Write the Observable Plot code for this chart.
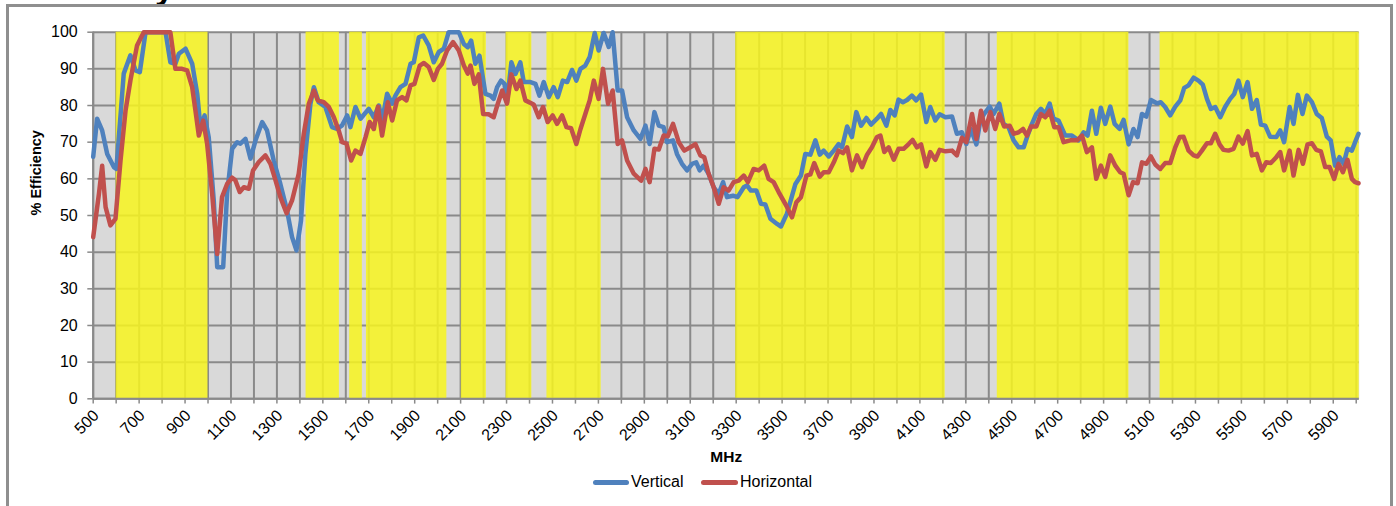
<!DOCTYPE html>
<html>
<head>
<meta charset="utf-8">
<script src="https://cdn.jsdelivr.net/npm/d3@7"></script>
<script src="https://cdn.jsdelivr.net/npm/@observablehq/plot@0.6"></script>
<style>
  html, body { margin: 0; padding: 0; background: #fff; }
  body { width: 1396px; height: 506px; overflow: hidden; position: relative; font-family: "Liberation Sans", Arial, sans-serif; }
  #frame { position: absolute; left: 6px; top: 4px; width: 1381px; height: 620px; border: 3px solid #8f8f8f; }
  #title { position: absolute; top: -30px; right: 1222px; font: bold 34px "Liberation Sans", Arial, sans-serif; line-height: 34px; color: #000; white-space: nowrap; }
  #chart { position: absolute; left: 0; top: 0; }
  .sw { position: absolute; height: 5px; border-radius: 3px; top: 480px; }
  .lt { position: absolute; top: 472px; font-size: 16px; line-height: 20px; color: #000; white-space: nowrap; }
</style>
</head>
<body>
<div id="title">Efficiency</div>
<div id="frame"></div>
<div id="chart"></div>
<div class="sw" style="left:593px;width:36px;background:#4f81bd"></div>
<div class="lt" style="left:631px">Vertical</div>
<div class="sw" style="left:701px;width:37px;background:#c0504d"></div>
<div class="lt" style="left:740px">Horizontal</div>
<script>
// ---- data ----
const vFreq = [500,517,539,561,590,601,633,662,684,703,728,815,836,858,873,902,931,953,967,985,1003,1025,1040,1066,1083,1105,1127,1141,1163,1185,1207,1236,1257,1286,1315,1344,1366,1385,1405,1424,1446,1461,1482,1511,1540,1562,1584,1606,1620,1642,1664,1700,1722,1744,1758,1780,1802,1816,1838,1860,1882,1896,1918,1937,1961,1983,2005,2027,2048,2092,2114,2131,2146,2164,2182,2208,2230,2244,2259,2276,2291,2302,2321,2339,2360,2375,2404,2426,2443,2462,2484,2505,2523,2545,2564,2585,2604,2622,2643,2662,2684,2701,2723,2745,2762,2784,2803,2825,2854,2883,2905,2923,2944,2963,2984,2999,3025,3042,3064,3086,3108,3126,3141,3158,3180,3202,3224,3243,3260,3286,3306,3333,3347,3364,3388,3408,3427,3449,3478,3495,3521,3558,3582,3601,3623,3645,3664,3681,3703,3725,3746,3761,3783,3804,3823,3844,3867,3887,3913,3931,3954,3971,3990,4007,4026,4044,4065,4084,4105,4128,4145,4167,4186,4211,4240,4261,4283,4302,4322,4346,4363,4380,4404,4421,4446,4464,4486,4508,4530,4552,4569,4588,4607,4627,4646,4665,4682,4704,4733,4762,4791,4813,4830,4849,4868,4888,4907,4929,4948,4970,4987,5009,5030,5048,5067,5086,5106,5132,5149,5168,5190,5212,5234,5251,5270,5292,5313,5332,5350,5367,5386,5408,5429,5451,5469,5487,5506,5527,5546,5567,5585,5604,5625,5652,5669,5686,5710,5727,5746,5766,5785,5807,5828,5850,5872,5889,5908,5927,5945,5962,5981,5995,6010];
const vEff = [66,76.4,73.2,66.8,63.2,62.7,88.7,93.7,89.6,89.1,100,100,91.8,91.4,94.1,95.5,91.4,83.2,74.1,77.3,71.4,54.1,35.9,35.9,55.9,68.2,70.0,69.6,70.9,65.5,70.5,75.5,73.2,65.0,58.6,51.4,44.1,40.5,48.6,66.8,80.5,85.0,80.9,79.6,74.1,73.6,74.6,77.3,74.1,79.6,76.4,79.1,76.8,80.0,75.9,83.2,80.5,82.7,85.0,85.9,91.4,91.8,98.6,99.1,96.4,91.8,94.6,95.5,100,100,96.8,95.9,97.7,91.4,93.6,83.2,82.7,81.8,85.0,86.8,85.9,80.9,91.8,88.6,91.8,86.4,86.4,85.9,82.7,86.4,82.3,85.0,82.3,86.8,86.4,89.7,86.8,90.0,90.9,93.2,99.8,95.0,99.8,96.0,100,84.1,84.1,76.8,73.2,70.9,74.5,69.5,78.2,74.5,74.1,70.0,70.5,66.8,64.1,62.3,64.1,64.5,62.3,63.6,61.4,57.7,55.9,59.1,55.0,55.4,55.0,57.7,58.2,56.8,56.8,53.2,53.0,49.1,47.7,47.0,50.5,58.6,60.9,66.8,66.6,70.5,66.6,67.7,66.1,67.7,69.5,68.6,74.3,71.4,78.2,74.5,76.6,74.8,76.4,77.7,74.5,78.8,77.3,81.6,80.9,81.5,82.7,81.4,83.0,75.5,79.6,75.9,77.6,76.8,77.0,72.3,72.7,69.5,73.6,69.4,75.9,77.7,79.7,77.7,80.5,75.0,74.1,70.5,68.6,68.6,71.8,75.0,77.7,79.1,77.7,80.5,76.4,75.9,71.8,71.8,70.5,72.7,71.8,78.6,72.3,79.4,75.0,79.7,75.0,73.6,76.1,69.4,73.6,71.4,77.7,77.0,81.5,80.6,80.9,79.6,77.3,79.7,81.4,84.8,85.5,87.6,86.8,85.7,81.8,79.1,79.6,76.8,79.6,81.8,83.2,86.8,82.3,86.4,79.1,81.5,74.8,74.5,71.5,71.4,73.2,70.0,79.6,75.0,82.9,77.7,82.7,80.9,77.7,76.6,71.5,70.5,63.6,65.9,64.1,68.2,67.7,70.0,72.3];

const hFreq = [500,525,539,554,575,597,619,641,662,691,720,836,858,887,909,931,945,960,979,996,1018,1040,1061,1083,1105,1119,1138,1156,1178,1196,1221,1250,1272,1294,1315,1342,1366,1395,1417,1439,1461,1478,1504,1526,1548,1569,1584,1603,1623,1642,1664,1686,1704,1722,1740,1758,1783,1802,1823,1845,1864,1882,1899,1922,1940,1961,1983,2001,2019,2041,2067,2092,2114,2131,2143,2160,2179,2198,2222,2244,2262,2281,2302,2321,2343,2360,2382,2418,2440,2459,2479,2501,2520,2542,2561,2581,2604,2622,2643,2662,2680,2701,2720,2742,2762,2784,2803,2825,2854,2886,2905,2923,2944,2963,2984,3002,3025,3050,3074,3100,3122,3144,3161,3180,3202,3224,3245,3267,3289,3311,3333,3351,3376,3398,3422,3441,3463,3485,3518,3543,3562,3582,3606,3623,3640,3664,3681,3703,3725,3746,3765,3783,3804,3826,3848,3870,3891,3913,3928,3945,3964,3986,4007,4029,4051,4068,4087,4105,4128,4145,4167,4186,4211,4240,4261,4283,4302,4327,4346,4366,4385,4407,4428,4446,4467,4491,4508,4530,4549,4566,4584,4607,4627,4646,4665,4685,4704,4726,4755,4784,4806,4827,4849,4868,4888,4907,4929,4951,4972,4987,5009,5028,5048,5067,5086,5106,5125,5147,5168,5190,5212,5231,5248,5270,5292,5309,5328,5350,5367,5386,5405,5422,5444,5466,5487,5506,5527,5546,5567,5589,5608,5628,5652,5669,5686,5710,5727,5749,5768,5788,5807,5826,5846,5865,5884,5904,5923,5942,5962,5981,5995,6010];
const hEff = [44.1,55.9,63.6,52.3,47.3,49.1,65.0,78.7,86.8,96.4,100,100,90.0,90.0,89.6,85.0,78.7,71.8,75.9,69.6,55.9,39.5,55.0,58.6,60.3,59.6,56.4,57.7,57.3,62.3,64.6,66.4,64.1,59.6,55.0,50.6,54.1,61.4,72.3,80.5,84.1,81.4,80.9,79.6,76.8,73.2,70.0,69.6,65.0,67.7,66.8,71.4,75.5,73.6,79.7,71.8,80.9,75.9,81.4,82.3,81.4,85.5,85.9,90.9,91.6,90.5,87.0,90.0,91.4,95.0,97.3,95.0,90.9,88.7,90.9,85.9,88.5,77.7,77.6,76.8,80.5,84.1,80.5,88.5,84.5,86.8,81.4,80.3,76.8,79.6,75.5,77.3,75.0,77.3,74.1,73.8,69.5,73.6,77.7,81.4,86.8,81.8,90.0,80.5,84.1,69.5,70.5,65.0,61.4,59.5,62.7,59.1,68.2,68.0,71.8,71.6,75.0,70.0,67.7,68.6,69.5,66.4,65.9,61.4,57.7,53.2,57.7,56.8,59.1,59.5,60.9,59.1,62.7,62.3,63.6,60.0,59.1,56.4,52.7,49.5,53.6,55.0,60.9,61.2,64.3,60.6,61.8,61.8,64.5,67.7,67.0,68.6,62.3,66.4,63.2,66.6,68.6,71.4,71.8,67.3,68.6,65.2,68.2,68.2,69.5,70.6,68.6,69.4,63.4,67.3,65.2,67.9,67.5,67.7,66.4,71.2,70.0,77.7,70.9,78.6,73.2,78.2,73.6,77.7,74.3,74.5,72.3,72.7,73.6,71.8,74.3,74.3,77.7,76.8,78.6,74.1,74.1,70.0,70.5,70.5,71.8,67.3,68.6,60.0,63.6,60.5,66.4,63.6,61.8,61.4,55.5,59.1,58.8,64.5,64.1,66.1,63.9,62.7,64.3,64.3,68.6,71.4,71.5,67.7,66.4,66.1,67.7,69.7,69.7,72.3,69.4,67.9,67.7,68.2,71.5,69.6,73.0,66.4,66.8,62.3,64.5,64.3,65.9,67.3,62.3,67.7,60.9,67.9,64.1,69.4,69.7,67.9,67.5,63.2,63.2,60.0,64.1,61.8,65.2,60.0,59.1,58.8];

// highlighted (yellow) frequency bands, MHz
const bandStart = [600,1427,1617,1690,2103,2298,2476,3298,4437,5146];
const bandEnd   = [1000,1572,1672,2040,2212,2410,2712,4210,5010,6013];

const xTicks = d3.range(500, 6001, 100);
const xLabels = d3.range(500, 6000, 200);
const yTicks = d3.range(0, 101, 10);

// ---- build tables ----
const vertical = vFreq.map((f, i) => ({f, v: vEff[i]}));
const horizontal = hFreq.map((f, i) => ({f, v: hEff[i]}));
const bands = bandStart.map((s, i) => ({s, e: bandEnd[i]}));

const H = 475;
const gridColor = "#8a8a8a";
const chart = Plot.plot({
  width: 1396,
  height: H,
  marginLeft: 92.7,
  marginRight: 1396 - 1358.7,
  marginTop: 31.7,
  marginBottom: H - 398.3,
  x: {domain: [500, 6013], axis: null},
  y: {domain: [0, 100], axis: null},
  style: {fontFamily: "'Liberation Sans', Arial, sans-serif", background: "transparent", overflow: "visible"},
  marks: [
    Plot.frame({fill: "#d9d9d9", stroke: "none"}),
    Plot.ruleX(xTicks, {stroke: gridColor, strokeWidth: 2}),
    Plot.ruleY(yTicks, {stroke: gridColor, strokeWidth: 2}),
    Plot.rect(bands, {x1: "s", x2: "e", y1: 0, y2: 100, fill: "#f7f520", fillOpacity: 0.86}),
    // axis lines and tick marks
    Plot.ruleY([0], {stroke: gridColor, strokeWidth: 2}),
    Plot.ruleX([500], {y1: 0, y2: 100, stroke: gridColor, strokeWidth: 2}),
    Plot.ruleX(xTicks, {y1: 0, y2: -1.45, stroke: gridColor, strokeWidth: 1.5}),
    Plot.ruleY(yTicks, {x1: 500, x2: 476.5, stroke: gridColor, strokeWidth: 1.5}),
    // series
    Plot.line(vertical, {x: "f", y: "v", stroke: "#4f81bd", strokeWidth: 4.5, strokeLinejoin: "round", strokeLinecap: "round"}),
    Plot.line(horizontal, {x: "f", y: "v", stroke: "#c0504d", strokeWidth: 4.5, strokeLinejoin: "round", strokeLinecap: "round"}),
    // tick labels
    Plot.text(yTicks, {x: 500, y: d => d, text: d => String(d), textAnchor: "end", dx: -15.5, fontSize: 16, fill: "#000"}),
    Plot.text(xLabels, {x: d => d, y: 0, text: d => String(d), rotate: -45, textAnchor: "end", dx: 3, dy: 14, fontSize: 16, fill: "#000"}),
    // axis titles
    Plot.text(["% Efficiency"], {frameAnchor: "left", rotate: -90, dx: -56.5, fontWeight: "bold", fontSize: 14.5, fill: "#000"}),
    Plot.text(["MHz"], {frameAnchor: "bottom", dy: 63, fontWeight: "bold", fontSize: 15.5, fill: "#000"})
  ]
});
document.getElementById("chart").appendChild(chart);
</script>
</body>
</html>
